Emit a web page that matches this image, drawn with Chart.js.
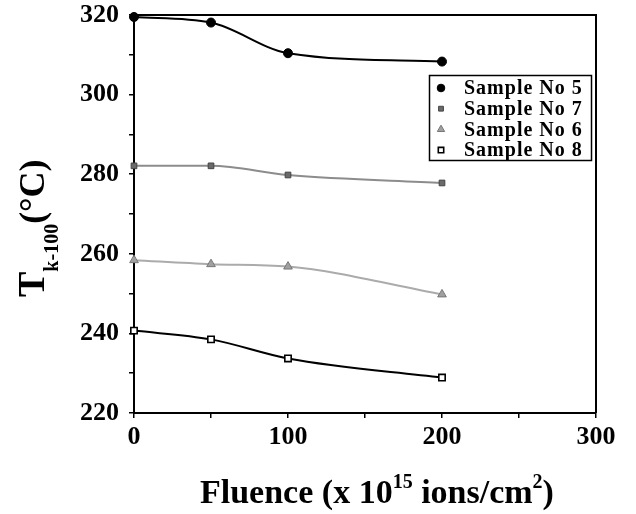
<!DOCTYPE html>
<html><head><meta charset="utf-8">
<script src="https://cdn.jsdelivr.net/npm/chart.js@4/dist/chart.umd.min.js"></script>
<style>html,body{margin:0;padding:0;background:#fff;}#wrap{width:636px;height:514px;position:relative;}</style>
</head><body><div id="wrap"><canvas id="c" width="636" height="514"></canvas></div>
<script>
const fluence = [0, 50, 100, 200];
const sample5 = [319.5, 318.1, 310.4, 308.3];
const sample7 = [282.1, 282.1, 279.8, 277.8];
const sample6 = [258.4, 257.4, 256.8, 249.8];
const sample8 = [240.7, 238.5, 233.7, 228.9];
const seriesLabels = ['Sample No 5', 'Sample No 7', 'Sample No 6', 'Sample No 8'];
const xTickLabels = [0, 100, 200, 300];
const yTickLabels = [220, 240, 260, 280, 300, 320];

const SERIF = '"Liberation Serif", "Times New Roman", serif';

function pts(ys) { return fluence.map((x, i) => ({ x: x, y: ys[i] })); }

const datasets = [
  { label: seriesLabels[0], data: pts(sample5), borderColor: '#000', borderWidth: 2,
    pointStyle: 'circle', pointRadius: 4.5, pointBackgroundColor: '#000', pointBorderColor: '#000', pointBorderWidth: 1 },
  { label: seriesLabels[1], data: pts(sample7), borderColor: '#8c8c8c', borderWidth: 2,
    pointStyle: 'rect', pointRadius: 4, pointBackgroundColor: '#6a6a6a', pointBorderColor: '#444', pointBorderWidth: 1 },
  { label: seriesLabels[2], data: pts(sample6), borderColor: '#ababab', borderWidth: 2,
    pointStyle: 'triangle', pointRadius: 5, pointBackgroundColor: '#a0a0a0', pointBorderColor: '#777', pointBorderWidth: 1 },
  { label: seriesLabels[3], data: pts(sample8), borderColor: '#000', borderWidth: 2,
    pointStyle: 'rect', pointRadius: 4.5, pointBackgroundColor: '#fff', pointBorderColor: '#000', pointBorderWidth: 1.6 }
];
datasets.forEach(d => { d.cubicInterpolationMode = 'monotone'; d.fill = false; d.clip = false; });

const framePlugin = {
  id: 'frame',
  afterDraw(chart) {
    const { ctx, chartArea: a } = chart;
    ctx.save();
    ctx.strokeStyle = '#000';
    ctx.lineWidth = 2;
    ctx.beginPath();
    ctx.moveTo(a.left, a.top); ctx.lineTo(a.right, a.top); ctx.lineTo(a.right, a.bottom);
    ctx.stroke();
    ctx.restore();
  }
};

const legendPlugin = {
  id: 'boxLegend',
  afterDraw(chart) {
    const ctx = chart.ctx;
    ctx.save();
    ctx.strokeStyle = '#000';
    ctx.lineWidth = 1.5;
    ctx.strokeRect(429.5, 75.5, 162, 85);
    chart.data.datasets.forEach((d, i) => {
      const y = 88 + i * 20.7;
      const x = 441;
      ctx.fillStyle = d.pointBackgroundColor;
      ctx.strokeStyle = d.pointBorderColor;
      ctx.lineWidth = d.pointBorderWidth;
      Chart.helpers.drawPoint(ctx, { pointStyle: d.pointStyle, radius: d.pointRadius * 0.85, borderWidth: d.pointBorderWidth, rotation: 0 }, x, y);
      ctx.fillStyle = '#000';
      ctx.font = 'bold 20px ' + SERIF;
      if ('letterSpacing' in ctx) ctx.letterSpacing = '1px';
      ctx.textBaseline = 'middle';
      ctx.textAlign = 'left';
      ctx.fillText(d.label, 464, y + 1);
    });
    ctx.restore();
  }
};

const titlePlugin = {
  id: 'axisTitles',
  afterDraw(chart) {
    const ctx = chart.ctx;
    ctx.save();
    ctx.fillStyle = '#000';
    ctx.textBaseline = 'alphabetic';
    ctx.textAlign = 'left';
    const big = 'bold 34px ' + SERIF, small = 'bold 20px ' + SERIF;
    const parts = [
      { t: 'Fluence (x 10', f: big, dy: 0 },
      { t: '15', f: small, dy: -15 },
      { t: ' ions/cm', f: big, dy: 0 },
      { t: '2', f: small, dy: -15 },
      { t: ')', f: big, dy: 0 }
    ];
    let x = 200; const base = 503;
    parts.forEach(p => { ctx.font = p.f; ctx.fillText(p.t, x, base + p.dy); x += ctx.measureText(p.t).width; });
    ctx.translate(44, 297);
    ctx.rotate(-Math.PI / 2);
    const yparts = [
      { t: 'T', f: 'bold 38px ' + SERIF, dy: 0 },
      { t: 'k-100', f: 'bold 20px ' + SERIF, dy: 14 },
      { t: '(°C)', f: 'bold 36px ' + SERIF, dy: 0 }
    ];
    let px = 0;
    yparts.forEach(p => { ctx.font = p.f; ctx.fillText(p.t, px, p.dy); px += ctx.measureText(p.t).width; });
    ctx.restore();
  }
};

const tickFont = { family: SERIF, size: 26, weight: 'bold' };

new Chart(document.getElementById('c'), {
  type: 'line',
  data: { datasets: datasets },
  options: {
    responsive: false,
    animation: false,
    devicePixelRatio: 1,
    layout: { padding: { left: 0, top: 15, right: 40, bottom: 0 } },
    plugins: { legend: { display: false }, tooltip: { enabled: false }, title: { display: false } },
    scales: {
      x: {
        type: 'linear', min: 0, max: 300,
        afterFit: s => { s.height = 101; s.paddingLeft = 0; s.paddingRight = 0; },
        ticks: { stepSize: 50, autoSkip: false, maxRotation: 0, color: '#000', font: tickFont, padding: 4,
          callback: v => xTickLabels.includes(v) ? String(v) : '' },
        grid: { display: true, drawOnChartArea: false, drawTicks: true, tickLength: 5, color: '#000', lineWidth: 1.5 },
        border: { display: true, color: '#000', width: 2 }
      },
      y: {
        type: 'linear', min: 220, max: 320,
        afterFit: s => { s.width = 134; s.paddingTop = 0; s.paddingBottom = 0; },
        ticks: { stepSize: 10, autoSkip: false, color: '#000', font: tickFont, padding: 10,
          callback: v => yTickLabels.includes(v) ? String(v) : '' },
        grid: { display: true, drawOnChartArea: false, drawTicks: true, tickLength: 5, color: '#000', lineWidth: 1.5 },
        border: { display: true, color: '#000', width: 2 }
      }
    }
  },
  plugins: [framePlugin, legendPlugin, titlePlugin]
});
</script></body></html>
